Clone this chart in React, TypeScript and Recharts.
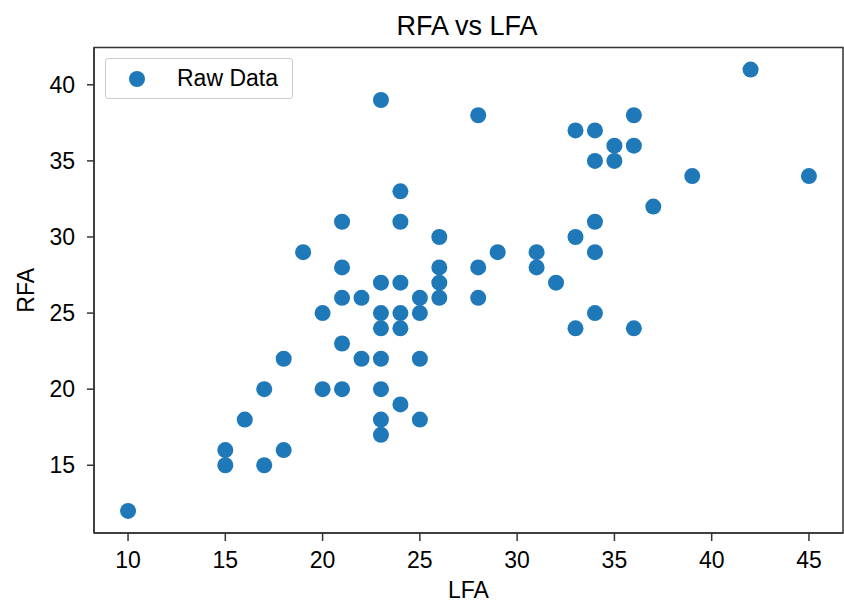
import {
  Customized,
  Legend,
  ReferenceArea,
  Scatter,
  ScatterChart,
  XAxis,
  YAxis,
} from "recharts";

document.body.style.margin = "0";

const lfa = [
  10, 15, 15, 16, 17, 17, 18, 18, 19, 20, 20, 21, 21, 21, 21, 21, 22, 22, 23,
  23, 23, 23, 23, 23, 23, 23, 24, 24, 24, 24, 24, 24, 25, 25, 25, 25, 26, 26,
  26, 26, 28, 28, 28, 29, 31, 31, 32, 33, 33, 33, 34, 34, 34, 34, 34, 35, 35,
  36, 36, 36, 37, 39, 42, 45,
];
const rfa = [
  12, 16, 15, 18, 20, 15, 22, 16, 29, 25, 20, 31, 28, 26, 23, 20, 26, 22, 39,
  27, 25, 24, 22, 20, 18, 17, 33, 31, 27, 25, 24, 19, 26, 25, 22, 18, 30, 28,
  27, 26, 38, 28, 26, 29, 29, 28, 27, 37, 30, 24, 37, 35, 31, 29, 25, 36, 35,
  38, 36, 24, 32, 34, 41, 34,
];
const xTicks = [10, 15, 20, 25, 30, 35, 40, 45];
const yTicks = [15, 20, 25, 30, 35, 40];

const points = lfa.map((x, i) => ({ lfa: x, rfa: rfa[i] }));

const FONT = "'Liberation Sans', Arial, sans-serif";
const DOT = "#1f78b8";
const AXIS = "#333333";

const xDomain: [number, number] = [8.25, 46.75];
const yDomain: [number, number] = [10.55, 42.45];

const LegendBox = () => (
  <div
    style={{
      position: "absolute",
      left: 105,
      top: 58,
      width: 186,
      height: 39,
      border: "1px solid #cccccc",
      borderRadius: 3,
      background: "#fff",
      fontFamily: FONT,
      fontSize: 23,
      color: "#000",
      display: "flex",
      alignItems: "center",
    }}
  >
    <svg width={16} height={16} style={{ marginLeft: 23 }}>
      <circle cx={8} cy={8} r={8} fill={DOT} />
    </svg>
    <span style={{ marginLeft: 32 }}>Raw Data</span>
  </div>
);

export default function App() {
  return (
    <div style={{ position: "relative", width: 844, height: 602, background: "#fff" }}>
      <ScatterChart
        width={844}
        height={602}
        margin={{ top: 47.5, right: 1, bottom: 0, left: 0 }}
        style={{ fontFamily: FONT }}
      >
        <ReferenceArea
          x1={xDomain[0]}
          x2={xDomain[1]}
          y1={yDomain[0]}
          y2={yDomain[1]}
          fill="none"
          stroke={AXIS}
          strokeWidth={1.5}
          fillOpacity={0}
          ifOverflow="visible"
        />
        <XAxis
          type="number"
          dataKey="lfa"
          domain={xDomain}
          ticks={xTicks}
          allowDataOverflow
          height={69}
          tickSize={8}
          tickMargin={11}
          stroke={AXIS}
          strokeWidth={1.5}
          tick={{ fill: "#000", fontSize: 23 }}
          label={{ value: "LFA", position: "insideBottom", offset: 4, fill: "#000", fontSize: 23 }}
        />
        <YAxis
          type="number"
          dataKey="rfa"
          domain={yDomain}
          ticks={yTicks}
          allowDataOverflow
          width={94}
          tickSize={7}
          tickMargin={12}
          stroke={AXIS}
          strokeWidth={1.5}
          tick={{ fill: "#000", fontSize: 23 }}
          label={{
            value: "RFA",
            angle: -90,
            position: "insideLeft",
            offset: 26,
            fill: "#000",
            fontSize: 23,
            style: { textAnchor: "middle" },
          }}
        />
        <Scatter
          name="Raw Data"
          data={points}
          fill={DOT}
          isAnimationActive={false}
          shape={(p: any) => <circle cx={p.cx} cy={p.cy} r={8} fill={DOT} />}
        />
        <Legend content={() => null} />
        <Customized
          component={() => (
            <text x={467} y={35} textAnchor="middle" fontSize={27} fill="#000" fontFamily={FONT}>
              RFA vs LFA
            </text>
          )}
        />
      </ScatterChart>
      <LegendBox />
    </div>
  );
}
